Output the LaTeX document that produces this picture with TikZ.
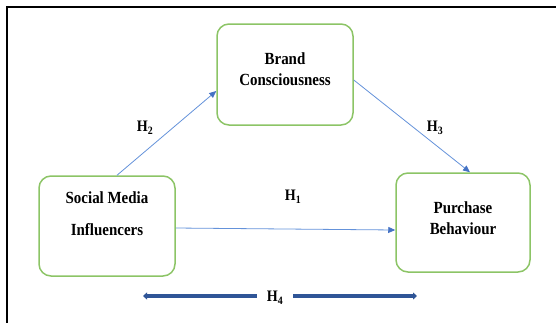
\documentclass[tikz,border=0pt]{standalone}
\usepackage{fontspec}
\setmainfont{Liberation Serif}[FakeStretch=0.88]
\usetikzlibrary{arrows.meta,calc}

\definecolor{boxgreen}{RGB}{140,196,102}
\definecolor{linkblue}{RGB}{100,146,218}
\definecolor{headblue}{RGB}{68,114,196}
\definecolor{barblue}{RGB}{47,85,151}

\tikzset{
    varbox/.style={draw=boxgreen, line width=1.5pt, rounded corners=12pt,
        minimum width=136pt, minimum height=100pt},
    vartext/.style={align=center, font=\fontsize{17}{21}\selectfont\bfseries},
    hyp/.style={font=\fontsize{16}{18}\selectfont\bfseries},
    link/.style={draw=linkblue, line width=0.8pt,
        -{Triangle[length=7pt,width=6pt,color=headblue]}},
    bar/.style={draw=barblue, line width=3.5pt, -{Triangle[length=4pt,width=7pt]}}
}

\begin{document}
\begin{tikzpicture}[x=1pt,y=-1pt]
    \useasboundingbox (0,0) rectangle (556,322);

    % Frame (open on the right and at the bottom)
    \draw[line width=2pt] (7,330) -- (7,7) -- (560,7);

    % The three variables
    \node[varbox, minimum height=101pt] (bc) at (285,74.5) {};
    \node[varbox] (smi) at (107,226) {};
    \node[varbox, minimum width=134pt, minimum height=99pt] (pb) at (463,222.5) {};

    \node[vartext] (bc-text) at ($(bc.center)+(0,-5)$) {Brand\\Consciousness};
    \node[vartext] (smi-text) at ($(smi.center)+(0,-12)$) {Social Media\\[11pt]Influencers};
    \node[vartext] (pb-text) at ($(pb.center)+(0,-4)$) {Purchase\\Behaviour};

    % Hypothesised paths
    \draw[link] ($(smi.north)+(10,0)$) -- ($(bc.west)+(0,16.5)$);
    \draw[link] ($(bc.east)+(0,5.5)$) -- ($(pb.north)+(7,0)$);
    \draw[link] ($(smi.east)+(0,2)$) -- ($(pb.west)+(0,7.5)$);

    % Hypothesis labels
    \node[hyp] (h2) at (145,128) {H\textsubscript{2}};
    \node[hyp] (h3) at (435,128) {H\textsubscript{3}};
    \node[hyp] (h1) at (293,197) {H\textsubscript{1}};
    \node[hyp, minimum width=36pt] (h4) at (275,298) {H\textsubscript{4}};

    % H4 double arrow
    \coordinate (h4l) at (143,296);
    \coordinate (h4r) at (417,296);
    \draw[bar] (h4.west |- h4l) -- (h4l);
    \draw[bar] (h4.east |- h4r) -- (h4r);
\end{tikzpicture}
\end{document}
